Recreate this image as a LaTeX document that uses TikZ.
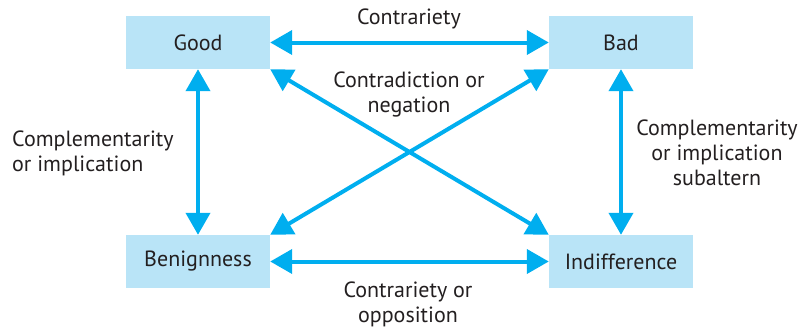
\documentclass[tikz,border=0pt]{standalone}
\usepackage{fontspec}
\setmainfont{PT Sans}
\usetikzlibrary{arrows.meta}
\definecolor{boxfill}{RGB}{185,228,247}
\definecolor{arrowcyan}{RGB}{0,174,239}
\definecolor{inkgray}{RGB}{35,31,32}
\begin{document}
\begin{tikzpicture}[x=1pt,y=-1pt,
  every node/.style={text=inkgray,font=\fontsize{22}{25}\selectfont},
  term/.style={fill=boxfill,minimum width=144pt,minimum height=53pt,inner sep=0pt},
  rel/.style={draw=arrowcyan,line width=4pt,{Triangle[length=22pt,width=24pt]}-{Triangle[length=22pt,width=24pt]}},
  caption/.style={inner sep=0pt,align=center}
]
\useasboundingbox (0,0) rectangle (807,330);

% the four terms of the square
\node[term] (good)   at (198,42.5)  {Good};
\node[term] (bad)    at (621,42.5)  {Bad};
\node[term] (benign) at (198,261.5) {Benignness};
\node[term] (indiff) at (621,261.5) {Indifference};

% relations between the terms
\draw[rel] (good.east) -- (bad.west);
\draw[rel] (benign.east) -- (indiff.west);
\draw[rel] (good.south) -- (benign.north);
\draw[rel] (bad.south) -- (indiff.north);
\draw[rel] (good.south east) -- (indiff.north west);
\draw[rel] (bad.south west) -- (benign.north east);

% relation names
\node[caption,anchor=base] (lblcontr) at (409,24) {Contrariety};
\node[caption,anchor=north] (lblneg) at (409,71.5) {Contradiction or\\negation};
\node[caption,anchor=north west,align=left] (lblcompl) at (12,131) {Complementarity\\or implication};
\node[caption,anchor=north] (lblsub) at (717,120) {Complementarity\\or implication\\subaltern};
\node[caption,anchor=north] (lblopp) at (408,282) {Contrariety or\\opposition};
\end{tikzpicture}
\end{document}
